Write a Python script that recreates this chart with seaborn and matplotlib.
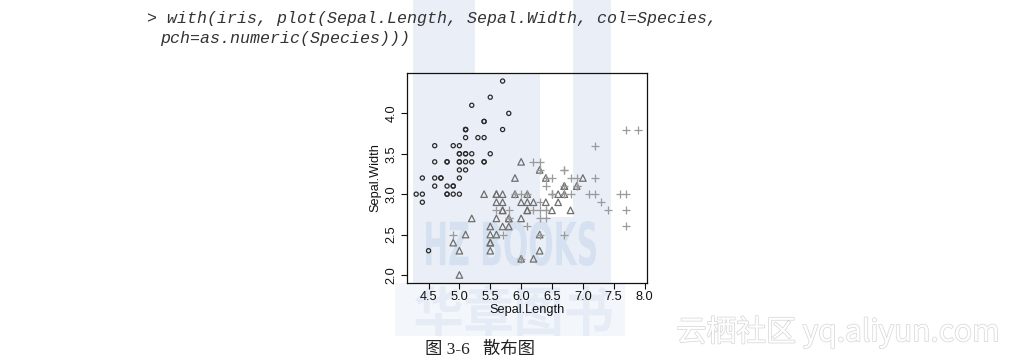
import numpy as np
import pandas as pd
import matplotlib
matplotlib.use("Agg")
import matplotlib.pyplot as plt
import seaborn as sns
from matplotlib.patches import Rectangle, PathPatch
from matplotlib.textpath import TextPath
from matplotlib.font_manager import FontProperties
from matplotlib.transforms import Affine2D
import matplotlib.patheffects as pe

# ---- data (iris sepal measurements) ----
setosa_len = [5.1,4.9,4.7,4.6,5.0,5.4,4.6,5.0,4.4,4.9,5.4,4.8,4.8,4.3,5.8,5.7,5.4,5.1,5.7,5.1,
              5.4,5.1,4.6,5.1,4.8,5.0,5.0,5.2,5.2,4.7,4.8,5.4,5.2,5.5,4.9,5.0,5.5,4.9,4.4,5.1,
              5.0,4.5,4.4,5.0,5.1,4.8,5.1,4.6,5.3,5.0]
setosa_wid = [3.5,3.0,3.2,3.1,3.6,3.9,3.4,3.4,2.9,3.1,3.7,3.4,3.0,3.0,4.0,4.4,3.9,3.5,3.8,3.8,
              3.4,3.7,3.6,3.3,3.4,3.0,3.4,3.5,3.4,3.2,3.1,3.4,4.1,4.2,3.1,3.2,3.5,3.6,3.0,3.4,
              3.5,2.3,3.2,3.5,3.8,3.0,3.8,3.2,3.7,3.3]
versicolor_len = [7.0,6.4,6.9,5.5,6.5,5.7,6.3,4.9,6.6,5.2,5.0,5.9,6.0,6.1,5.6,6.7,5.6,5.8,6.2,5.6,
                  5.9,6.1,6.3,6.1,6.4,6.6,6.8,6.7,6.0,5.7,5.5,5.5,5.8,6.0,5.4,6.0,6.7,6.3,5.6,5.5,
                  5.5,6.1,5.8,5.0,5.6,5.7,5.7,6.2,5.1,5.7]
versicolor_wid = [3.2,3.2,3.1,2.3,2.8,2.8,3.3,2.4,2.9,2.7,2.0,3.0,2.2,2.9,2.9,3.1,3.0,2.7,2.2,2.5,
                  3.2,2.8,2.5,2.8,2.9,3.0,2.8,3.0,2.9,2.6,2.4,2.4,2.7,2.7,3.0,3.4,3.1,2.3,3.0,2.5,
                  2.6,3.0,2.6,2.3,2.7,3.0,2.9,2.9,2.5,2.8]
virginica_len = [6.3,5.8,7.1,6.3,6.5,7.6,4.9,7.3,6.7,7.2,6.5,6.4,6.8,5.7,5.8,6.4,6.5,7.7,7.7,6.0,
                 6.9,5.6,7.7,6.3,6.7,7.2,6.2,6.1,6.4,7.2,7.4,7.9,6.4,6.3,6.1,7.7,6.3,6.4,6.0,6.9,
                 6.7,6.9,5.8,6.8,6.7,6.7,6.3,6.5,6.2,5.9]
virginica_wid = [3.3,2.7,3.0,2.9,3.0,3.0,2.5,2.9,2.5,3.6,3.2,2.7,3.0,2.5,2.8,3.2,3.0,3.8,2.6,2.2,
                 3.2,2.8,2.8,2.7,3.3,3.2,2.8,3.0,2.8,3.0,2.8,3.8,2.8,2.8,2.6,3.0,3.4,3.1,3.0,3.1,
                 3.1,3.1,2.7,3.2,3.3,3.0,2.5,3.0,3.4,3.0]
species = ["setosa", "versicolor", "virginica"]
x_ticks = [4.5, 5.0, 5.5, 6.0, 6.5, 7.0, 7.5, 8.0]
y_ticks = [2.0, 2.5, 3.0, 3.5, 4.0]

df = pd.DataFrame({
    "Sepal.Length": setosa_len + versicolor_len + virginica_len,
    "Sepal.Width": setosa_wid + versicolor_wid + virginica_wid,
    "Species": [species[0]] * 50 + [species[1]] * 50 + [species[2]] * 50,
})

sns.set_theme(style="white")
plt.rcParams["font.family"] = ["Liberation Sans", "DejaVu Sans"]

W, H = 1015, 361
fig = plt.figure(figsize=(W / 100, H / 100), dpi=100)
fig.patch.set_facecolor("white")

def fx(px):
    return px / W

def fy(py):
    return 1 - py / H

def rect(x0, y0, x1, y1, color, z=-2):
    fig.add_artist(Rectangle((fx(x0), fy(y1)), fx(x1) - fx(x0), fy(y0) - fy(y1),
                             transform=fig.transFigure, facecolor=color,
                             edgecolor="none", zorder=z))

# ---- faint background watermark (book publisher logo) ----
wm = "#eaeff7"
rect(413, 0, 475, 283, wm)
rect(475, 73, 540, 283, wm)
rect(540, 217, 573, 283, wm)
rect(573, 0, 611, 283, wm)
rect(395, 283, 625, 336, "#f3f6fb")

def squashed_text(s, x0, y0, x1, y1, color, family, weight="normal", z=-1):
    tp = TextPath((0, 0), s, size=1, prop=FontProperties(family=family, weight=weight))
    bb = tp.get_extents()
    tr = (Affine2D().translate(-bb.x0, -bb.y0)
          .scale((x1 - x0) / bb.width, (y1 - y0) / bb.height)
          .translate(x0, H - y1))
    patch = PathPatch(tr.transform_path(tp), facecolor=color, edgecolor="none",
                      transform=Affine2D(), zorder=z)
    fig.add_artist(patch)

squashed_text("HZ BOOKS", 426, 221, 596, 266, "#d5e1f0", "DejaVu Sans", "bold")
squashed_text("华章图书", 415, 285, 612, 336, "#e5ecf5", "Noto Sans CJK SC", "bold")

# ---- code line at top ----
code_kw = dict(family=["Liberation Mono", "DejaVu Sans Mono"], style="italic",
               fontsize=12.0, color="#333333", transform=fig.transFigure)
fig.text(fx(147), fy(23), "> with(iris, plot(Sepal.Length, Sepal.Width, col=Species,",
         va="baseline", ha="left", **code_kw)
fig.text(fx(160), fy(43), "pch=as.numeric(Species)))", va="baseline", ha="left", **code_kw)

# ---- scatter plot ----
ax = fig.add_axes([fx(407.3), fy(282.7), fx(647.3) - fx(407.3), fy(73.3) - fy(282.7)])
ax.set_facecolor("none")
ax.set_zorder(2)

styles = {
    "setosa": dict(marker="o", s=9, color="#2a2a2a", facecolor="none", edgecolor="#2a2a2a", linewidth=0.9),
    "versicolor": dict(marker="^", s=22, color="#6e6e6e", facecolor="none", edgecolor="#6e6e6e", linewidth=0.9),
    "virginica": dict(marker="+", s=32, color="#9a9a9a", linewidth=0.9),
}
for sp in species:
    sub = df[df["Species"] == sp]
    sns.scatterplot(data=sub, x="Sepal.Length", y="Sepal.Width", ax=ax, legend=False, **styles[sp])

ax.set_xlim(4.156, 8.044)
ax.set_ylim(1.904, 4.496)
ax.set_xticks(x_ticks)
ax.set_yticks(y_ticks)
ax.set_xticklabels([f"{v:.1f}" for v in x_ticks], fontsize=9.2, color="#111111")
ax.set_yticklabels([f"{v:.1f}" for v in y_ticks], fontsize=9.2, color="#111111",
                   rotation=90, va="center")
ax.tick_params(axis="both", direction="out", length=4, width=0.8, color="#111111",
               pad=2, bottom=True, left=True)
ax.tick_params(axis="y", pad=3)
ax.set_xlabel("Sepal.Length", fontsize=9.2, color="#111111", labelpad=1)
ax.set_ylabel("Sepal.Width", fontsize=9.2, color="#111111", labelpad=3)
for s in ax.spines.values():
    s.set_visible(True)
    s.set_color("#111111")
    s.set_linewidth(0.9)

# ---- caption ----
fig.text(fx(480), fy(350), "图 3-6   散布图", ha="center", va="center", fontsize=12.5,
         family=["Liberation Serif", "Noto Sans CJK SC"], color="#222222", zorder=3)

# ---- site watermark ----
t = fig.text(fx(838), fy(332), "云栖社区 yq.aliyun.com", ha="center", va="center",
             fontsize=21.5, family=["Noto Sans CJK SC", "DejaVu Sans"], color="white", zorder=3)
t.set_path_effects([pe.withStroke(linewidth=1.1, foreground="#d8d8d8")])

fig.savefig("out.png", dpi=100)
